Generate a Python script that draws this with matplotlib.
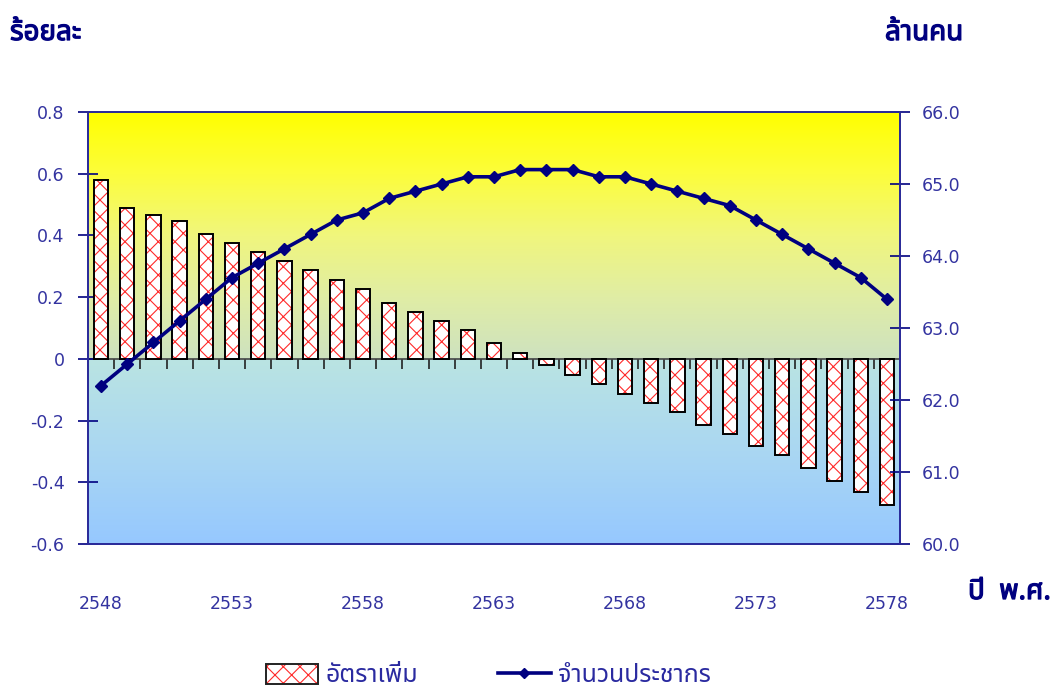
import numpy as np
import matplotlib
matplotlib.use("Agg")
import matplotlib.pyplot as plt
from matplotlib import font_manager
from matplotlib.ft2font import FT2Font
from matplotlib.patches import Patch
from matplotlib.lines import Line2D
import matplotlib.patheffects as pe

# ---------------- data ----------------
years = list(range(2548, 2579))
growth_rate = [0.58, 0.49, 0.466, 0.448, 0.406, 0.377, 0.347, 0.316, 0.287, 0.256,
               0.226, 0.182, 0.152, 0.122, 0.093, 0.051, 0.02, -0.021, -0.053, -0.083,
               -0.113, -0.142, -0.172, -0.215, -0.245, -0.282, -0.311, -0.353, -0.395,
               -0.433, -0.473]
population = [62.2, 62.5, 62.8, 63.1, 63.4, 63.7, 63.9, 64.1, 64.3, 64.5,
              64.6, 64.8, 64.9, 65.0, 65.1, 65.1, 65.2, 65.2, 65.2, 65.1,
              65.1, 65.0, 64.9, 64.8, 64.7, 64.5, 64.3, 64.1, 63.9, 63.7, 63.4]
xtick_years = [2548, 2553, 2558, 2563, 2568, 2573, 2578]
left_ticks = [0.8, 0.6, 0.4, 0.2, 0, -0.2, -0.4, -0.6]
left_labels = ["0.8", "0.6", "0.4", "0.2", "0", "-0.2", "-0.4", "-0.6"]
right_ticks = [66.0, 65.0, 64.0, 63.0, 62.0, 61.0, 60.0]
label_left = "ร้อยละ"
label_right = "ล้านคน"
label_x = "ปี พ.ศ."
series_bar = "อัตราเพิ่ม"
series_line = "จำนวนประชากร"

# ---------------- find a Thai-capable font ----------------
thai_fam = None
cands = []
for f in font_manager.fontManager.ttflist:
    try:
        ft = FT2Font(f.fname)
        cm = ft.get_charmap()
        if 0x0E23 in cm and 0x0E49 in cm:
            cands.append(f.name)
    except Exception:
        pass
pref = ["Noto Sans Thai", "Noto Sans Thai UI", "Loma", "Garuda", "Tahoma",
        "Sarabun", "TH Sarabun New", "Norasi", "Kinnari", "Waree", "Umpush"]
for p in pref:
    if p in cands:
        thai_fam = p
        break
if thai_fam is None and cands:
    thai_fam = cands[0]
thai_family = [thai_fam, "DejaVu Sans"] if thai_fam else ["DejaVu Sans"]

navy = "#000080"
tickc = "#3333a0"

fig = plt.figure(figsize=(10.64, 6.88), dpi=100)
ax = fig.add_axes([88/1064, 1-544/688, (900-88)/1064, (544-112)/688])
ax2 = ax.twinx()

x = np.arange(len(years))

# background gradient
ys = np.linspace(0.8, -0.6, 400)
stops_v = [0.8, 0.6, 0.4, 0.2, 0.001, -0.001, -0.3, -0.6]
stops_c = np.array([(255, 255, 0), (252, 253, 60), (240, 246, 125), (224, 237, 165),
                    (206, 226, 192), (186, 228, 226), (170, 215, 242), (150, 200, 255)]) / 255.0
sv = stops_v[::-1]
sc = stops_c[::-1]
img = np.stack([np.interp(ys, sv, sc[:, k]) for k in range(3)], axis=-1)
img = np.repeat(img[:, None, :], 2, axis=1)
ax.imshow(img, extent=[-0.5, len(years) - 0.5, -0.6, 0.8], aspect="auto", zorder=0,
          interpolation="bilinear")

plt.rcParams["hatch.linewidth"] = 0.8
bw = 0.55
ax.bar(x, growth_rate, width=bw, facecolor="white", edgecolor="#ff2a2a", linewidth=0,
       hatch="xx", zorder=2)
ax.bar(x, growth_rate, width=bw, facecolor="none", edgecolor="black", linewidth=1.4, zorder=3)

ax.set_xlim(-0.5, len(years) - 0.5)
ax.set_ylim(-0.6, 0.8)
ax.set_yticks(left_ticks)
ax.set_yticklabels(left_labels)
ax.set_xticks([years.index(y) for y in xtick_years])
ax.set_xticklabels([str(y) for y in xtick_years])
ax.tick_params(axis="x", length=0, pad=37, labelsize=12.5, labelcolor=tickc)
ax.tick_params(axis="y", direction="inout", length=14, width=1.2, color=navy,
               pad=10, labelsize=12.5, labelcolor=tickc)

# category axis crossing at zero
sec = ax.secondary_xaxis(0.6 / 1.4)
sec.set_xticks(np.arange(0.5, len(years) - 1, 1.0))
sec.tick_params(direction="out", length=7, width=1.2, color="#222222", labelbottom=False)
sec.spines["bottom"].set_color("#444444")
sec.spines["bottom"].set_linewidth(1.2)

ax2.plot(x, population, color=navy, linewidth=2.6, marker="D", markersize=6.5,
         markerfacecolor=navy, markeredgecolor=navy, zorder=5)
ax2.set_ylim(60, 66)
ax2.set_yticks(right_ticks)
ax2.set_yticklabels([f"{v:.1f}" for v in right_ticks])
ax2.tick_params(axis="y", direction="inout", length=14, width=1.2, color=navy,
                pad=9, labelsize=12.5, labelcolor=tickc)

for a in (ax, ax2):
    for s in a.spines.values():
        s.set_color("#2b2b9a")
        s.set_linewidth(1.3)

bold = [pe.withStroke(linewidth=0.9, foreground=navy)]
fig.text(10/1064, 1-33/688, label_left, family=thai_family, fontsize=20, weight="bold",
         color=navy, va="center", ha="left", path_effects=bold)
fig.text(885/1064, 1-33/688, label_right, family=thai_family, fontsize=20, weight="bold",
         color=navy, va="center", ha="left", path_effects=bold)
fig.text(968/1064, 1-592/688, "ปี  พ.ศ.", family=thai_family, fontsize=20, weight="bold",
         color=navy, va="center", ha="left", path_effects=bold)

h_bar = (Patch(facecolor="white", edgecolor="#ff2a2a", hatch="xx", linewidth=0),
         Patch(facecolor="none", edgecolor="#222222", linewidth=1.4))
h_line = Line2D([], [], color=navy, linewidth=2.6, marker="D", markersize=5.5)
leg = fig.legend([h_bar, h_line], [series_bar, series_line], loc="center left",
                 bbox_to_anchor=(243/1064, 1-676/688), ncol=2, frameon=False,
                 prop={"family": thai_family, "size": 18}, labelcolor="#2a2aa0",
                 handlelength=2.1, handleheight=0.85, columnspacing=3.2, handletextpad=0.3)

fig.savefig("out.png", dpi=100)
